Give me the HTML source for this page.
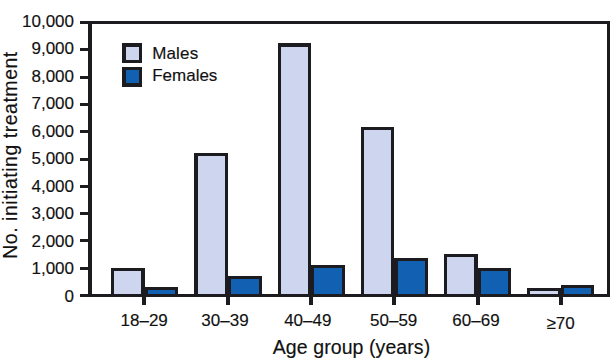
<!DOCTYPE html>
<html><head><meta charset="utf-8"><style>
html,body{margin:0;padding:0;background:#fff;}
svg{display:block;}
text{font-family:"Liberation Sans",sans-serif;font-size:17px;fill:#111;stroke:#111;stroke-width:0.15px;}
text.t{font-size:19.5px;}
</style></head><body>
<svg width="616" height="364" viewBox="0 0 616 364">
<g shape-rendering="crispEdges">
<rect x="111" y="268" width="34" height="26" fill="#1c1c20"/>
<rect x="114" y="271" width="27" height="23" fill="#cdd5ef"/>
<rect x="194" y="153" width="34" height="141" fill="#1c1c20"/>
<rect x="198" y="156" width="27" height="138" fill="#cdd5ef"/>
<rect x="278" y="43" width="33" height="251" fill="#1c1c20"/>
<rect x="281" y="47" width="27" height="247" fill="#cdd5ef"/>
<rect x="361" y="127" width="33" height="167" fill="#1c1c20"/>
<rect x="364" y="130" width="27" height="164" fill="#cdd5ef"/>
<rect x="444" y="254" width="34" height="40" fill="#1c1c20"/>
<rect x="447" y="257" width="27" height="37" fill="#cdd5ef"/>
<rect x="527" y="288" width="34" height="6" fill="#1c1c20"/>
<rect x="530" y="291" width="28" height="3" fill="#cdd5ef"/>
<rect x="144" y="287" width="34" height="7" fill="#1c1c20"/>
<rect x="148" y="290" width="27" height="4" fill="#1160b2"/>
<rect x="228" y="276" width="34" height="18" fill="#1c1c20"/>
<rect x="231" y="279" width="28" height="15" fill="#1160b2"/>
<rect x="311" y="265" width="34" height="29" fill="#1c1c20"/>
<rect x="314" y="268" width="28" height="26" fill="#1160b2"/>
<rect x="394" y="258" width="34" height="36" fill="#1c1c20"/>
<rect x="398" y="261" width="27" height="33" fill="#1160b2"/>
<rect x="477" y="268" width="34" height="26" fill="#1c1c20"/>
<rect x="481" y="271" width="27" height="23" fill="#1160b2"/>
<rect x="561" y="285" width="33" height="9" fill="#1c1c20"/>
<rect x="564" y="288" width="27" height="6" fill="#1160b2"/>
<rect x="142" y="297" width="4" height="8" fill="#1c1c20"/>
<rect x="226" y="297" width="4" height="8" fill="#1c1c20"/>
<rect x="309" y="297" width="4" height="8" fill="#1c1c20"/>
<rect x="392" y="297" width="4" height="8" fill="#1c1c20"/>
<rect x="476" y="297" width="4" height="8" fill="#1c1c20"/>
<rect x="559" y="297" width="4" height="8" fill="#1c1c20"/>
<rect x="88" y="21" width="522" height="3" fill="#1c1c20"/>
<rect x="607" y="21" width="3" height="276" fill="#1c1c20"/>
<rect x="88" y="294" width="522" height="3" fill="#1c1c20"/>
<rect x="88" y="21" width="4" height="276" fill="#1c1c20"/>
<rect x="80" y="294" width="8" height="3" fill="#1c1c20"/>
<rect x="80" y="267" width="8" height="3" fill="#1c1c20"/>
<rect x="80" y="239" width="8" height="3" fill="#1c1c20"/>
<rect x="80" y="212" width="8" height="3" fill="#1c1c20"/>
<rect x="80" y="185" width="8" height="3" fill="#1c1c20"/>
<rect x="80" y="158" width="8" height="3" fill="#1c1c20"/>
<rect x="80" y="130" width="8" height="3" fill="#1c1c20"/>
<rect x="80" y="103" width="8" height="3" fill="#1c1c20"/>
<rect x="80" y="76" width="8" height="3" fill="#1c1c20"/>
<rect x="80" y="48" width="8" height="3" fill="#1c1c20"/>
<rect x="80" y="21" width="8" height="3" fill="#1c1c20"/>
<rect x="122" y="43" width="20" height="20" fill="#1c1c20"/>
<rect x="126" y="47" width="13" height="13" fill="#cdd5ef"/>
<rect x="122" y="67" width="20" height="20" fill="#1c1c20"/>
<rect x="126" y="70" width="13" height="13" fill="#1160b2"/>
</g>
<text x="74" y="301.9" text-anchor="end">0</text>
<text x="74" y="274.4" text-anchor="end">1,000</text>
<text x="74" y="246.8" text-anchor="end">2,000</text>
<text x="74" y="219.3" text-anchor="end">3,000</text>
<text x="74" y="191.7" text-anchor="end">4,000</text>
<text x="74" y="164.2" text-anchor="end">5,000</text>
<text x="74" y="136.7" text-anchor="end">6,000</text>
<text x="74" y="109.1" text-anchor="end">7,000</text>
<text x="74" y="81.6" text-anchor="end">8,000</text>
<text x="74" y="54.0" text-anchor="end">9,000</text>
<text x="74" y="26.5" text-anchor="end">10,000</text>
<text x="144.2" y="326" text-anchor="middle">18–29</text>
<text x="225.0" y="326" text-anchor="middle">30–39</text>
<text x="307.8" y="326" text-anchor="middle">40–49</text>
<text x="393.7" y="326" text-anchor="middle">50–59</text>
<text x="476.0" y="326" text-anchor="middle">60–69</text>
<text x="560.5" y="329" text-anchor="middle">≥70</text>
<text x="152.2" y="59" style="letter-spacing:0.15px">Males</text>
<text x="152.2" y="81.3">Females</text>
<text class="t" x="351.5" y="354" text-anchor="middle" style="letter-spacing:0.08px">Age group (years)</text>
<text class="t" transform="translate(17,155) rotate(-90)" text-anchor="middle" style="letter-spacing:0.52px">No. initiating treatment</text>
</svg>
</body></html>
